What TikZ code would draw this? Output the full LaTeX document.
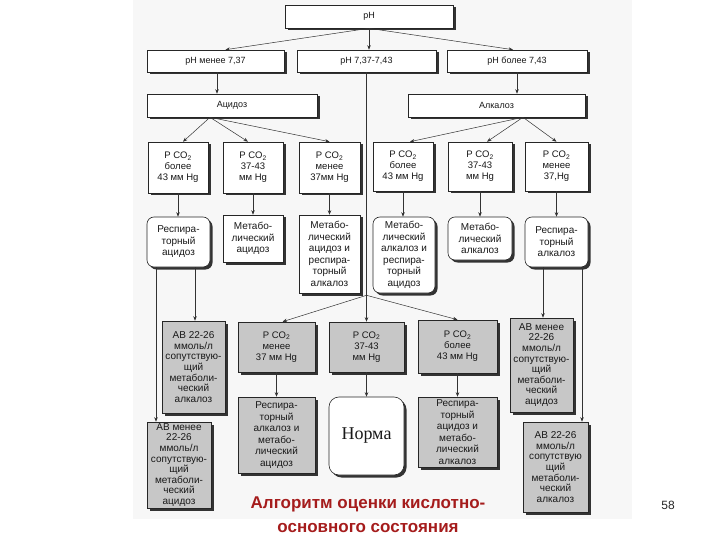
\documentclass[tikz,border=0pt]{standalone}
\usepackage{fontspec}
\setmainfont{Liberation Sans}
\newfontfamily\serifru{Liberation Serif}
\usetikzlibrary{shadows,arrows.meta,calc}
\definecolor{titlered}{RGB}{165,28,28}
\begin{document}
\begin{tikzpicture}[x=1pt,y=-1pt,
 box/.style={draw=black!85, line width=0.6pt, fill=white, inner sep=0pt, align=center, text=black!90,
   font=\fontsize{10}{11.5}\selectfont,
   drop shadow={shadow xshift=2.5pt, shadow yshift=-2.5pt, fill=black!80, opacity=1}},
 gbox/.style={box, fill=black!22},
 rbox/.style={box, rounded corners=7pt},
 pbox/.style={box, font=\fontsize{9.5}{11}\selectfont},
 pgbox/.style={gbox, font=\fontsize{9.5}{11}\selectfont},
 topbox/.style={box, font=\fontsize{9}{10}\selectfont},
 abbox/.style={gbox, font=\fontsize{10}{10.6}\selectfont},
 sz/.style 2 args={minimum width=#1pt, minimum height=#2pt},
 conn/.style={draw=black!80, line width=0.5pt},
 arr/.style={conn, -{Stealth[length=4.5pt,width=3.5pt]}},
]
\useasboundingbox (0,0) rectangle (720,540);
\fill[black!3] (133,0) rectangle (632,519);

% row 1-3
\node[topbox, sz={168}{23}] (ph) at (369,16.5) {pH};
\node[topbox, sz={137}{22}] (r2a) at (215.5,61) {pH менее 7,37};
\node[topbox, sz={139}{22}] (r2b) at (366.5,61) {pH 7,37-7,43};
\node[topbox, sz={140}{22}] (r2c) at (517,61) {pH более 7,43};
\node[topbox, sz={170}{23}] (acid) at (232,105.5) {Ацидоз};
\node[topbox, sz={177}{23}] (alk) at (496.5,105.5) {Алкалоз};

% row 4
\node[pbox, sz={60}{51}] (p1) at (178,167.5) {P CO\textsubscript{2}\\более\\43 мм Hg};
\node[pbox, sz={60}{51}] (p2) at (253,167.5) {P CO\textsubscript{2}\\37-43\\мм Hg};
\node[pbox, sz={61}{51}] (p3) at (329.5,167.5) {P CO\textsubscript{2}\\менее\\37мм Hg};
\node[pbox, sz={60}{49}] (p4) at (403,166.5) {P CO\textsubscript{2}\\более\\43 мм Hg};
\node[pbox, sz={64}{49}] (p5) at (480,166.5) {P CO\textsubscript{2}\\37-43\\мм Hg};
\node[pbox, sz={63}{49}] (p6) at (556.5,166.5) {P CO\textsubscript{2}\\менее\\37,Hg};

% row 5
\node[rbox, sz={63}{50}] (b1) at (178.5,242) {Респира-\\торный\\ацидоз};
\node[box, sz={60}{47}] (b2) at (253,238.5) {Метабо-\\лический\\ацидоз};
\node[box, sz={61}{78}] (b3) at (329.5,254) {Метабо-\\лический\\ацидоз и\\респира-\\торный\\алкалоз};
\node[rbox, sz={62}{76}] (b4) at (404,255) {Метабо-\\лический\\алкалоз и\\респира-\\торный\\ацидоз};
\node[rbox, sz={64}{43}] (b5) at (480,238.5) {Метабо-\\лический\\алкалоз};
\node[rbox, sz={63}{50}] (b6) at (556.5,242) {Респира-\\торный\\алкалоз};

% row 6
\node[abbox, sz={63}{92}] (ab1) at (193.5,367) {АВ 22-26\\ммоль/л\\сопутствую-\\щий\\метаболи-\\ческий\\алкалоз};
\node[abbox, sz={64}{86}] (ab2) at (179,465) {АВ менее\\22-26\\ммоль/л\\сопутствую-\\щий\\метаболи-\\ческий\\ацидоз};
\node[pgbox, sz={77}{50}] (c1) at (276.5,347) {P CO\textsubscript{2}\\менее\\37 мм Hg};
\node[pgbox, sz={75}{50}] (c2) at (366.5,347) {P CO\textsubscript{2}\\37-43\\мм Hg};
\node[pgbox, sz={79}{53}] (c3) at (457.5,346.5) {P CO\textsubscript{2}\\более\\43 мм Hg};
\node[gbox, sz={77}{76}] (d1) at (276.5,435) {Респира-\\торный\\алкалоз и\\метабо-\\лический\\ацидоз};
\node[box, rounded corners=10pt, sz={75}{78}, font=\serifru\fontsize{18}{20}\selectfont] (norma) at (366.5,436) {Норма};
\node[gbox, sz={79}{70}] (d3) at (457.5,432) {Респира-\\торный\\ацидоз и\\метабо-\\лический\\алкалоз};
\node[abbox, sz={63}{94}] (ab3) at (541.5,365) {АВ менее\\22-26\\ммоль/л\\сопутствую-\\щий\\метаболи-\\ческий\\ацидоз};
\node[abbox, sz={65}{90}] (ab4) at (555.5,467) {АВ 22-26\\ммоль/л\\сопутствую\\щий\\метаболи-\\ческий\\алкалоз};

% connectors
\draw[arr] (ph.south) -- ($(r2a.north)+(10,0)$);
\draw[arr] (ph.south) -- (ph.south |- r2b.north);
\draw[arr] (ph.south) -- ($(r2c.north)+(-4,0)$);
\coordinate (r2af) at ($(r2a.south)+(1.5,0)$);
\draw[arr] (r2af) -- (r2af |- acid.north);
\draw[arr] (r2c.south) -- (r2c.south |- alk.north);

\coordinate (af) at ($(acid.south)+(-22,0)$);
\coordinate (lf) at ($(alk.south)+(26.5,0)$);
\draw[arr] (af) -- ($(p1.north)+(5,0)$);
\draw[arr] (af) -- ($(p2.north)+(-5,0)$);
\draw[arr] (af) -- (p3.north);
\draw[arr] (lf) -- ($(p4.north)+(7,0)$);
\draw[arr] (lf) -- ($(p5.north)+(7,0)$);
\draw[arr] (lf) -- (p6.north);

\foreach \i in {1,...,6}{\draw[arr] (p\i.south) -- (p\i.south |- b\i.north);}

\coordinate (J) at ($(r2b.south)+(0,223)$);
\draw[conn] (r2b.south) -- (J);
\draw[arr] (J) -- ($(c1.north)+(6,0)$);
\draw[arr] (J) -- (c2.north);
\draw[arr] (J) -- (c3.north);
\draw[arr] (c1.south) -- (c1.south |- d1.north);
\draw[arr] (c2.south) -- (c2.south |- norma.north);
\draw[arr] (c3.south) -- (c3.south |- d3.north);

\coordinate (b1l) at ($(b1.south)+(-22.5,0)$);
\coordinate (b1r) at ($(b1.south)+(16.5,0)$);
\draw[arr] (b1l) -- (b1l |- ab2.north);
\draw[arr] (b1r) -- (b1r |- ab1.north);
\coordinate (b6l) at ($(b6.south)+(-13.5,0)$);
\coordinate (b6r) at ($(b6.south)+(25.5,0)$);
\draw[arr] (b6l) -- (b6l |- ab3.north);
\draw[arr] (b6r) -- (b6r |- ab4.north);

% title and page number
\node[font=\bfseries\fontsize{17}{24}\selectfont, text=titlered, align=center] (title) at (368,515) {Алгоритм оценки кислотно-\\основного состояния};
\node[font=\fontsize{12}{14}\selectfont, text=black!85] (pg) at (668,505) {58};
\end{tikzpicture}
\end{document}
